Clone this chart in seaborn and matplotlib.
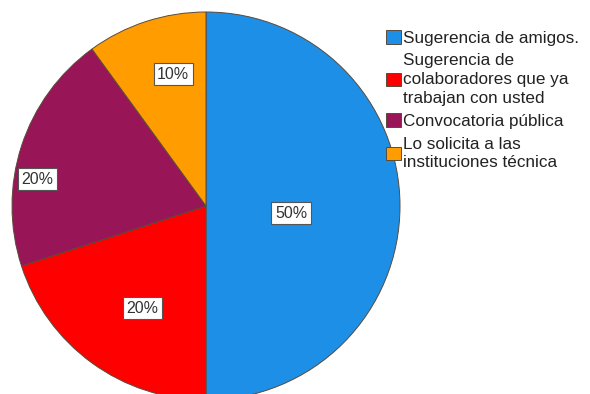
import numpy as np
import matplotlib
matplotlib.use("Agg")
import matplotlib.pyplot as plt
import seaborn as sns

# Data
categories = [
    "Sugerencia de amigos.",
    "Sugerencia de\ncolaboradores que ya\ntrabajan con usted",
    "Convocatoria pública",
    "Lo solicita a las\ninstituciones técnica",
]
shares = [50, 20, 20, 10]

# Styling
colors = ["#1E8FE6", "#FE0000", "#981558", "#FF9C00"]
label_radius = [0.44, 0.62, 0.88, 0.70]
label_angle_shift = [-5, 4, 9, -4]

sns.set_theme(style="white")
plt.rcParams["font.family"] = ["Liberation Sans", "DejaVu Sans"]

W, H = 590, 394
fig = plt.figure(figsize=(W / 100, H / 100), dpi=100)
cx, cy, r = 206, 206, 194
ax = fig.add_axes([(cx - r) / W, (H - cy - r) / H, 2 * r / W, 2 * r / H])

wedges, _ = ax.pie(
    shares,
    colors=colors,
    startangle=90,
    counterclock=False,
    radius=1.0,
    wedgeprops=dict(edgecolor="#5a4a3a", linewidth=0.7),
)
ax.set_xlim(-1, 1)
ax.set_ylim(-1, 1)
ax.set_aspect("equal")
ax.axis("off")

total = float(sum(shares))
for w, v, rad, shift in zip(wedges, shares, label_radius, label_angle_shift):
    mid = np.deg2rad((w.theta1 + w.theta2) / 2 + shift)
    ax.text(
        rad * np.cos(mid), rad * np.sin(mid),
        f"{v / total * 100:.0f}%",
        ha="center", va="center", fontsize=11.5, color="#333333",
        bbox=dict(boxstyle="square,pad=0.22", facecolor="white",
                  edgecolor="#555555", linewidth=0.8),
    )

leg = fig.legend(
    wedges, categories,
    loc="upper left",
    bbox_to_anchor=(386 / W, 1 - 30 / H),
    frameon=False,
    fontsize=12.3,
    handlelength=0.85,
    handleheight=0.85,
    handletextpad=0.12,
    labelspacing=0.45,
    borderaxespad=0,
    borderpad=0,
)
for t in leg.get_texts():
    t.set_color("#222222")
    t.set_linespacing(1.3)

fig.savefig("out.png", dpi=100)
